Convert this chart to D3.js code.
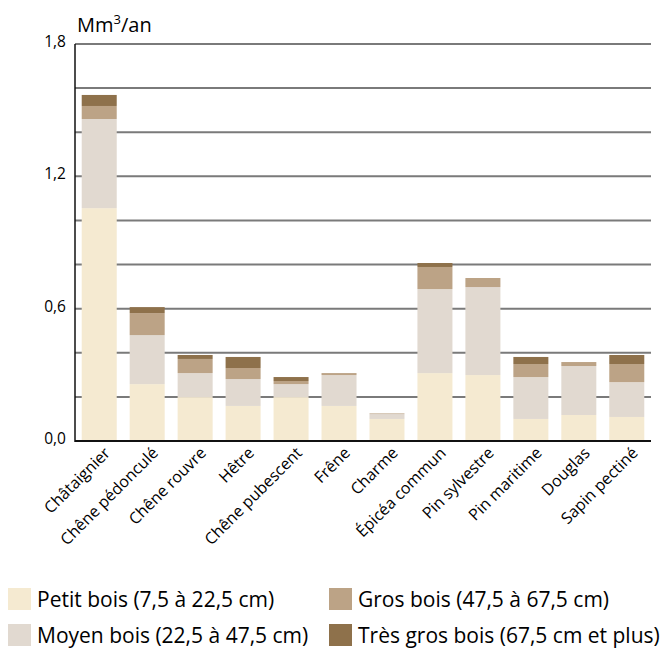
<!DOCTYPE html>
<html>
<head>
<meta charset="utf-8">
<script src="https://cdn.jsdelivr.net/npm/d3@7"></script>
<style>
  body { margin: 0; background: #fff; }
  text { font-family: "Open Sans", sans-serif; fill: #000; }
</style>
</head>
<body>
<svg id="chart" width="664" height="649"></svg>
<script>
const species = ["Châtaignier", "Chêne pédonculé", "Chêne rouvre", "Hêtre", "Chêne pubescent",
  "Frêne", "Charme", "Épicéa commun", "Pin sylvestre", "Pin maritime", "Douglas", "Sapin pectiné"];

const petitBois    = [1.056, 0.258, 0.199, 0.159, 0.199, 0.159, 0.100, 0.308, 0.299, 0.100, 0.118, 0.109];
const moyenBois    = [0.404, 0.222, 0.109, 0.122, 0.059, 0.140, 0.022, 0.381, 0.399, 0.190, 0.222, 0.158];
const grosBois     = [0.059, 0.100, 0.064, 0.050, 0.014, 0.009, 0.003, 0.100, 0.041, 0.059, 0.018, 0.082];
const tresGrosBois = [0.050, 0.027, 0.018, 0.050, 0.018, 0.000, 0.000, 0.018, 0.000, 0.032, 0.000, 0.041];

const seriesNames = ["Petit bois (7,5 à 22,5 cm)", "Moyen bois (22,5 à 47,5 cm)",
  "Gros bois (47,5 à 67,5 cm)", "Très gros bois (67,5 cm et plus)"];
const colors = ["#f5ead1", "#e1d9d0", "#bca386", "#8e714b"];
const yTicks = [0, 0.6, 1.2, 1.8];
const yGrid = [0.2, 0.4, 0.6, 0.8, 1.0, 1.2, 1.4, 1.6, 1.8];

const svg = d3.select("#chart");

const plotLeft = 75, plotRight = 651, plotTop = 44, plotBottom = 441;

const keys = ["petit", "moyen", "gros", "tres"];
const rows = species.map((s, i) => ({
  name: s, petit: petitBois[i], moyen: moyenBois[i], gros: grosBois[i], tres: tresGrosBois[i]
}));
const stacked = d3.stack().keys(keys)(rows);

const x = d3.scaleBand().domain(species).range([plotLeft, plotRight]).paddingInner(0.27).paddingOuter(0.14);
const y = d3.scaleLinear().domain([0, 1.8]).range([plotBottom, plotTop]);

// horizontal grid lines
svg.append("g")
  .selectAll("line")
  .data(yGrid)
  .join("line")
  .attr("x1", plotLeft).attr("x2", plotRight)
  .attr("y1", d => y(d)).attr("y2", d => y(d))
  .attr("stroke", "#7a7a7a")
  .attr("stroke-width", 2);

// bars
svg.append("g")
  .selectAll("g")
  .data(stacked)
  .join("g")
  .attr("fill", (d, i) => colors[i])
  .selectAll("rect")
  .data(d => d)
  .join("rect")
  .attr("x", d => x(d.data.name))
  .attr("width", x.bandwidth())
  .attr("y", d => y(d[1]))
  .attr("height", d => y(d[0]) - y(d[1]));

// baseline and y axis line
svg.append("line")
  .attr("x1", plotLeft).attr("x2", plotRight)
  .attr("y1", y(0)).attr("y2", y(0))
  .attr("stroke", "#111").attr("stroke-width", 2);
svg.append("line")
  .attr("x1", plotLeft).attr("x2", plotLeft)
  .attr("y1", plotTop).attr("y2", plotBottom + 1)
  .attr("stroke", "#111").attr("stroke-width", 1.5);

// y tick labels
svg.append("g")
  .selectAll("text")
  .data(yTicks)
  .join("text")
  .attr("x", 66)
  .attr("y", d => y(d) + 3)
  .attr("text-anchor", "end")
  .attr("font-size", 15.5)
  .text(d => d3.format(".1f")(d).replace(".", ","));

// unit label
const unit = svg.append("text").attr("x", 77).attr("y", 32).attr("font-size", 20);
unit.append("tspan").text("Mm");
unit.append("tspan").attr("font-size", 13).attr("dy", -8).text("3");
unit.append("tspan").attr("dy", 8).text("/an");

// category labels
svg.append("g")
  .selectAll("text")
  .data(species)
  .join("text")
  .attr("text-anchor", "end")
  .attr("font-size", 16)
  .attr("transform", d => `translate(${x(d) + x.bandwidth() / 2 + 12},${plotBottom + 13}) rotate(-45)`)
  .text(d => d);

// legend
const legendPos = [[8, 588], [8, 624], [329, 588], [329, 624]];
const legend = svg.append("g")
  .selectAll("g")
  .data(seriesNames)
  .join("g")
  .attr("transform", (d, i) => `translate(${legendPos[i][0]},${legendPos[i][1]})`);
legend.append("rect")
  .attr("width", 23).attr("height", 22)
  .attr("fill", (d, i) => colors[i]);
legend.append("text")
  .attr("x", 29).attr("y", 19)
  .attr("font-size", 21)
  .text(d => d);
</script>
</body>
</html>
